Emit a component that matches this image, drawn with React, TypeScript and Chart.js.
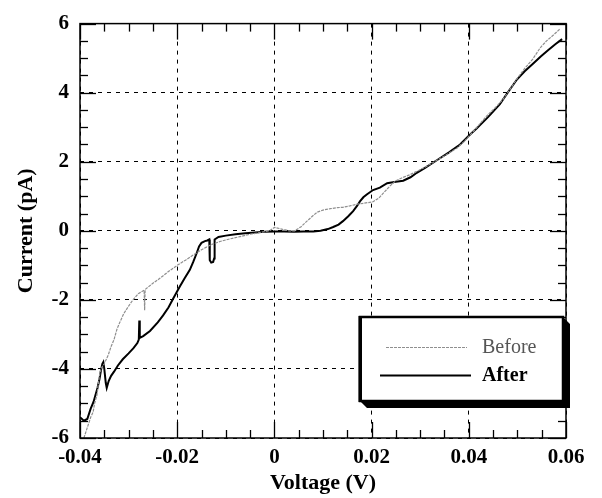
import React, { useEffect, useRef } from 'react';
import { Chart, registerables } from 'chart.js';

Chart.register(...registerables);

// ---- Data ----
const beforeV = [
  -0.0392, -0.0385, -0.0378, -0.0373, -0.037, -0.0365, -0.0362, -0.0359, -0.0355, -0.035,
  -0.0342, -0.0336, -0.033, -0.0324, -0.0318, -0.031, -0.03, -0.0291, -0.028, -0.0268,
  -0.0267, -0.0266, -0.025, -0.0235, -0.0218, -0.02, -0.0183, -0.0167, -0.015, -0.013,
  -0.0112, -0.009, -0.0071, -0.005, -0.003, -0.001, 0.0, 0.0015, 0.003, 0.0042,
  0.0055, 0.0067, 0.0078, 0.0088, 0.01, 0.0115, 0.013, 0.0141, 0.0155, 0.017,
  0.0185, 0.0203, 0.0215, 0.0228, 0.0238, 0.025, 0.0262, 0.0278, 0.0293, 0.0315,
  0.0335, 0.0356, 0.0376, 0.039, 0.0402, 0.042, 0.0437, 0.0455, 0.047, 0.0485,
  0.0499, 0.0515, 0.0532, 0.0547, 0.056, 0.0575, 0.0588,
];
const beforeI = [
  -6.0, -5.7, -5.4, -5.25, -5.0, -4.75, -4.4, -4.1, -3.95, -3.85,
  -3.6, -3.35, -3.15, -2.85, -2.65, -2.4, -2.18, -2.0, -1.82, -1.72,
  -2.3, -1.7, -1.52, -1.37, -1.18, -1.0, -0.85, -0.7, -0.55, -0.4,
  -0.31, -0.23, -0.17, -0.1, -0.05, 0.0, 0.1, 0.05, 0.0, 0.0,
  0.12, 0.28, 0.42, 0.54, 0.6, 0.64, 0.67, 0.68, 0.72, 0.77,
  0.8, 0.84, 0.95, 1.15, 1.3, 1.45, 1.53, 1.62, 1.72, 1.88,
  2.05, 2.22, 2.4, 2.58, 2.76, 3.05, 3.33, 3.57, 3.8, 4.1,
  4.4, 4.7, 4.98, 5.3, 5.5, 5.68, 5.85,
];
const afterV = [
  -0.04, -0.0392, -0.0385, -0.0378, -0.0372, -0.0368, -0.0364, -0.036, -0.0357, -0.0354,
  -0.0352, -0.035, -0.0347, -0.0345, -0.0341, -0.0336, -0.033, -0.0322, -0.0312, -0.03,
  -0.029, -0.0282, -0.0279, -0.0278, -0.0277, -0.027, -0.0256, -0.024, -0.0229, -0.0218,
  -0.0209, -0.02, -0.0194, -0.0185, -0.0174, -0.0167, -0.016, -0.0155, -0.015, -0.0143,
  -0.0138, -0.0134, -0.0133, -0.013, -0.0126, -0.0124, -0.0123, -0.0115, -0.01, -0.008,
  -0.006, -0.004, -0.002, 0.0, 0.002, 0.004, 0.006, 0.008, 0.0095, 0.011,
  0.0121, 0.0132, 0.0141, 0.0152, 0.0162, 0.017, 0.0176, 0.0183, 0.019, 0.0203,
  0.0217, 0.0232, 0.025, 0.0265, 0.028, 0.0293, 0.031, 0.0335, 0.036, 0.0382,
  0.04, 0.0416, 0.044, 0.0464, 0.048, 0.0499, 0.0515, 0.0532, 0.0548, 0.0563,
  0.0578, 0.0592,
];
const afterI = [
  -5.4, -5.5, -5.45, -5.15, -4.95, -4.75, -4.55, -4.3, -4.05, -3.85,
  -3.8, -4.0, -4.4, -4.55, -4.35, -4.2, -4.08, -3.9, -3.72, -3.55,
  -3.4, -3.25, -3.15, -2.6, -3.1, -3.05, -2.9, -2.65, -2.45, -2.22,
  -1.98, -1.75, -1.6, -1.38, -1.13, -0.9, -0.65, -0.45, -0.35, -0.3,
  -0.28, -0.25, -0.85, -0.92, -0.9, -0.8, -0.25, -0.18, -0.14, -0.1,
  -0.07, -0.05, -0.03, -0.02, -0.02, -0.03, -0.02, -0.02, 0.0, 0.05,
  0.11, 0.18, 0.28, 0.42, 0.57, 0.72, 0.85, 0.97, 1.05, 1.18,
  1.25, 1.38, 1.42, 1.45, 1.55, 1.68, 1.82, 2.05, 2.28, 2.5,
  2.75, 2.96, 3.3, 3.67, 4.0, 4.38, 4.62, 4.84, 5.05, 5.23,
  5.4, 5.55,
];
const seriesLabels = ['Before', 'After'];
const xTickValues = [-0.04, -0.02, 0, 0.02, 0.04, 0.06];
const yTickValues = [-6, -4, -2, 0, 2, 4, 6];
const xTitle = 'Voltage (V)';
const yTitle = 'Current (pA)';

const SERIF = '"Liberation Serif", "Times New Roman", serif';
const BEFORE_COLOR = '#8f8f8f';

const frameAndLegend = {
  id: 'frameAndLegend',
  beforeDraw(chart: any) {
    const { ctx, width, height } = chart;
    ctx.save();
    ctx.fillStyle = '#fff';
    ctx.fillRect(0, 0, width, height);
    ctx.restore();
  },
  afterDraw(chart: any) {
    const { ctx, chartArea, scales } = chart;
    const { left, right, top, bottom } = chartArea;
    const xs = scales.x;
    const ys = scales.y;
    ctx.save();
    ctx.strokeStyle = '#000';
    ctx.lineWidth = 1.5;
    ctx.strokeRect(left, top, right - left, bottom - top);
    ctx.lineWidth = 1.3;
    const seg = (x1: number, y1: number, x2: number, y2: number) => {
      ctx.beginPath();
      ctx.moveTo(x1, y1);
      ctx.lineTo(x2, y2);
      ctx.stroke();
    };
    const xMin = xTickValues[0];
    for (let k = 0; k <= 20; k++) {
      const v = xMin + k * 0.005;
      const px = Math.round(xs.getPixelForValue(v)) + 0.5;
      const len = k % 4 === 0 ? 16 : 8;
      seg(px, top, px, top + len);
      seg(px, bottom, px, bottom - len);
    }
    const yMin = yTickValues[0];
    for (let k = 0; k <= 24; k++) {
      const v = yMin + k * 0.5;
      const py = Math.round(ys.getPixelForValue(v)) + 0.5;
      const len = k % 4 === 0 ? 16 : 8;
      seg(left, py, left + len, py);
      seg(right, py, right - len, py);
    }

    // Legend box with 3D shadow
    const bx = 360, by = 317, bw = 203, bh = 84, sh = 7;
    ctx.fillStyle = '#000';
    ctx.beginPath();
    ctx.moveTo(bx + bw, by);
    ctx.lineTo(bx + bw + sh, by + sh);
    ctx.lineTo(bx + bw + sh, by + bh + sh);
    ctx.lineTo(bx + sh, by + bh + sh);
    ctx.lineTo(bx, by + bh);
    ctx.lineTo(bx + bw, by + bh);
    ctx.closePath();
    ctx.fill();
    ctx.fillStyle = '#fff';
    ctx.fillRect(bx, by, bw, bh);
    ctx.lineWidth = 2.5;
    ctx.strokeStyle = '#000';
    ctx.strokeRect(bx, by, bw, bh);
    ctx.fillStyle = '#000';
    ctx.fillRect(bx - 1.5, by - 1, 3.5, bh + 2);

    const ds = chart.data.datasets;
    // Before sample
    ctx.strokeStyle = ds[0].borderColor;
    ctx.lineWidth = ds[0].borderWidth;
    ctx.setLineDash(ds[0].borderDash || []);
    seg(386, 347.5, 467, 347.5);
    // After sample
    ctx.setLineDash([]);
    ctx.strokeStyle = ds[1].borderColor;
    ctx.lineWidth = ds[1].borderWidth;
    seg(380, 375.5, 471, 375.5);

    ctx.textBaseline = 'middle';
    ctx.textAlign = 'left';
    ctx.fillStyle = '#555';
    ctx.font = `20px ${SERIF}`;
    ctx.fillText(ds[0].label, 482, 348);
    ctx.fillStyle = '#000';
    ctx.font = `bold 20px ${SERIF}`;
    ctx.fillText(ds[1].label, 482, 376);
    ctx.restore();
  },
};

export default function App() {
  const ref = useRef<HTMLCanvasElement | null>(null);
  useEffect(() => {
    if (!ref.current) return;
    const chart = new Chart(ref.current, {
      type: 'scatter',
      data: {
        datasets: [
          {
            label: seriesLabels[0],
            data: beforeV.map((v, i) => ({ x: v, y: beforeI[i] })),
            showLine: true,
            borderColor: BEFORE_COLOR,
            borderWidth: 1.2,
            borderDash: [3, 1],
            pointRadius: 0,
            tension: 0,
          },
          {
            label: seriesLabels[1],
            data: afterV.map((v, i) => ({ x: v, y: afterI[i] })),
            showLine: true,
            borderColor: '#000',
            borderWidth: 2,
            pointRadius: 0,
            tension: 0,
          },
        ],
      },
      options: {
        responsive: false,
        animation: false,
        layout: { padding: { top: 16, right: 36, left: 0, bottom: 0 } },
        plugins: {
          legend: { display: false },
          tooltip: { enabled: false },
        },
        scales: {
          x: {
            type: 'linear',
            min: xTickValues[0],
            max: xTickValues[xTickValues.length - 1],
            afterBuildTicks: (scale: any) => {
              scale.ticks = xTickValues.map((v) => ({ value: v }));
            },
            afterFit: (scale: any) => {
              scale.height = 60;
            },
            ticks: {
              padding: 7,
              color: '#000',
              font: { family: SERIF, size: 21, weight: 'bold' },
              maxRotation: 0,
              callback: (v: any) => {
                const n = Number(v);
                if (Math.abs(n) < 1e-9) return '0';
                return n.toFixed(2);
              },
            },
            grid: {
              color: '#000',
              lineWidth: 1,
              drawTicks: false,
            },
            border: { display: false, dash: [4, 5] },
            title: {
              display: true,
              text: xTitle,
              color: '#000',
              font: { family: SERIF, size: 22, weight: 'bold' },
              padding: { top: 0, bottom: 1 },
            },
          },
          y: {
            type: 'linear',
            min: yTickValues[0],
            max: yTickValues[yTickValues.length - 1],
            afterBuildTicks: (scale: any) => {
              scale.ticks = yTickValues.map((v) => ({ value: v }));
            },
            afterFit: (scale: any) => {
              scale.width = 80;
            },
            ticks: {
              padding: 11,
              color: '#000',
              font: { family: SERIF, size: 21, weight: 'bold' },
              callback: (v: any) => String(Math.round(Number(v))),
            },
            grid: {
              color: '#000',
              lineWidth: 1,
              drawTicks: false,
            },
            border: { display: false, dash: [4, 5] },
            title: {
              display: true,
              text: yTitle,
              color: '#000',
              font: { family: SERIF, size: 22, weight: 'bold' },
              padding: { top: 13, bottom: 0 },
            },
          },
        },
      },
      plugins: [frameAndLegend],
    } as any);
    return () => chart.destroy();
  }, []);
  return (
    <div style={{ position: 'absolute', left: 0, top: 0, width: 602, height: 498, background: '#fff' }}>
      <canvas ref={ref} width={602} height={498} style={{ display: 'block' }} />
    </div>
  );
}
